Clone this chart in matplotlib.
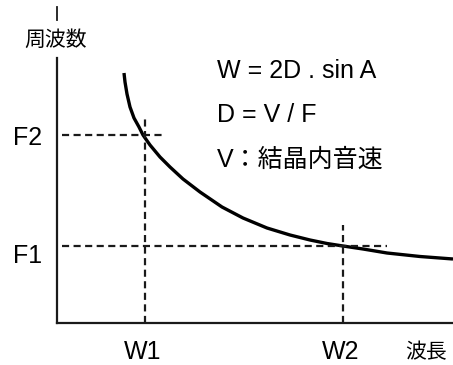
import matplotlib
matplotlib.use("Agg")
import matplotlib.pyplot as plt

plt.rcParams['font.family'] = ['Liberation Sans', 'Noto Sans CJK JP', 'DejaVu Sans']

# curve (wavelength vs frequency, arbitrary units)
wavelength = [67, 68, 70, 73, 77, 82, 86, 93, 103, 113, 126, 143, 165, 186,
              210, 233, 253, 270, 286, 306, 330, 363, 396]
frequency = [250, 241, 229, 216, 205, 196, 188, 178, 166, 156, 144, 131, 116, 105,
             95, 88, 83, 79.5, 77, 74, 70, 66.5, 64]

w_marks = [88, 286]
f_marks = [188, 77]
w_labels = ["W1", "W2"]
f_labels = ["F2", "F1"]
# how far each dashed guide reaches
w_guide_top = [208, 98]
f_guide_end = [105, 330]

formulas = ["W = 2D . sin A", "D = V / F", "V：結晶内音速"]

fig = plt.figure(figsize=(4.53, 3.65), dpi=100)
ax = fig.add_axes([57 / 453, 42 / 365, 396 / 453, 265 / 365])
ax.set_xlim(0, 396)
ax.set_ylim(0, 265)

for s in ["top", "right"]:
    ax.spines[s].set_visible(False)
for s in ["left", "bottom"]:
    ax.spines[s].set_linewidth(1.6)
    ax.spines[s].set_color("#1a1a1a")
ax.set_xticks([])
ax.set_yticks([])

ax.plot(wavelength, frequency, color="black", lw=2.4, solid_capstyle="butt",
        solid_joinstyle="round")

dash = (0, (3.2, 2.0))
for w, top in zip(w_marks, w_guide_top):
    ax.plot([w, w], [0, top], color="#1a1a1a", lw=1.6, linestyle=dash)
for f, end in zip(f_marks, f_guide_end):
    ax.plot([5, end], [f, f], color="#1a1a1a", lw=1.6, linestyle=dash)

for w, lab in zip(w_marks, w_labels):
    ax.text(w - 2, -29, lab, ha="center", va="center", fontsize=18, clip_on=False)
for f, lab in zip(f_marks, f_labels):
    ax.text(-29, f - 3 if lab == "F2" else f - 10, lab, ha="center", va="center",
            fontsize=18, clip_on=False)

ax.text(369, -29, "波長", ha="center", va="center", fontsize=15,
        family=['Noto Sans CJK JP'], clip_on=False)
ax.text(-1, 283, "周波数", ha="center", va="center", fontsize=15,
        family=['Noto Sans CJK JP'], clip_on=False)
ax.plot([0, 0], [303, 316], color="#1a1a1a", lw=1.3, clip_on=False)

for i, txt in enumerate(formulas):
    ax.text(160, 252 - 44.5 * i, txt, ha="left", va="center", fontsize=18,
            family=['Liberation Sans', 'Noto Sans CJK JP'], clip_on=False)

fig.savefig("out.png", dpi=100)
